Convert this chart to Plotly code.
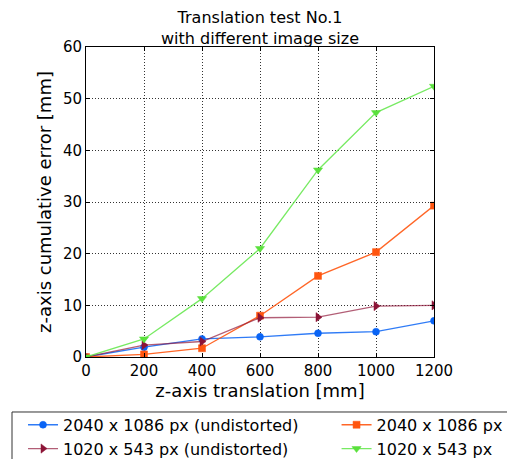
import plotly.graph_objects as go

# z-axis translation steps [mm]
translation = [0, 200, 400, 600, 800, 1000, 1200]

# cumulative z-axis error [mm] for each image size
err_2040_undist = [0, 1.9, 3.5, 3.9, 4.6, 4.9, 7.0]
err_2040 = [0, 0.5, 1.7, 8.0, 15.7, 20.3, 29.3]
err_1020_undist = [0, 2.3, 3.0, 7.6, 7.7, 9.85, 10.0]
err_1020 = [0, 3.5, 11.3, 21.0, 36.2, 47.3, 52.4]

x_ticks = [0, 200, 400, 600, 800, 1000, 1200]
y_ticks = [0, 10, 20, 30, 40, 50, 60]

FONT = "DejaVu Sans"

series = [
    ("2040 x 1086 px (undistorted)", err_2040_undist, "rgba(10,100,245,0.85)", "rgb(10,100,245)", "circle", 7, "legend"),
    ("2040 x 1086 px", err_2040, "rgba(255,85,15,0.9)", "rgb(255,85,15)", "square", 7, "legend2"),
    ("1020 x 543 px (undistorted)", err_1020_undist, "rgba(145,25,60,0.7)", "rgb(140,20,55)", "triangle-right", 8, "legend"),
    ("1020 x 543 px", err_1020, "rgba(95,230,70,0.85)", "rgb(90,225,60)", "triangle-down", 8, "legend2"),
]

fig = go.Figure()
for name, ys, lc, mc, sym, ms, leg in series:
    fig.add_trace(go.Scatter(
        x=translation, y=ys, name=name, mode="lines+markers",
        line=dict(color=lc, width=1.3),
        marker=dict(color=mc, symbol=sym, size=ms, line=dict(color=mc, width=0.5)),
        legend=leg,
    ))

axis_common = dict(
    showline=True, linecolor="black", linewidth=1, mirror="ticks",
    ticks="inside", ticklen=4, tickcolor="black",
    showgrid=True, gridcolor="rgba(0,0,0,0.8)", griddash="1px,2px", gridwidth=1,
    zeroline=False, tickfont=dict(family=FONT, size=15, color="black"),
)

fig.update_xaxes(range=[0, 1200], tickvals=x_ticks,
                 title=dict(text="z-axis translation [mm]", font=dict(family=FONT, size=18, color="black"), standoff=1),
                 **axis_common)
fig.update_yaxes(range=[0, 60], tickvals=y_ticks,
                 title=dict(text="z-axis cumulative error [mm]", font=dict(family=FONT, size=18, color="black"), standoff=6),
                 **axis_common)

legend_font = dict(family=FONT, size=16, color="black")
fig.update_layout(
    width=507, height=459,
    margin=dict(l=86, r=73, t=47, b=102, autoexpand=False),
    paper_bgcolor="white", plot_bgcolor="white",
    font=dict(family=FONT, color="black"),
    annotations=[dict(text="Translation test No.1<br>with different image size",
                      x=0.5, xref="paper", xanchor="center",
                      y=1, yref="paper", yanchor="bottom", yshift=-3,
                      showarrow=False, align="center",
                      font=dict(family=FONT, size=16, color="black"))],
    legend=dict(x=-0.181, xanchor="left", y=-0.164, yanchor="top",
                bgcolor="rgba(0,0,0,0)", borderwidth=0, font=legend_font,
                tracegroupgap=0, itemwidth=30),
    legend2=dict(x=0.72, xanchor="left", y=-0.164, yanchor="top",
                 bgcolor="rgba(0,0,0,0)", borderwidth=0, font=legend_font,
                 tracegroupgap=0, itemwidth=30),
    shapes=[dict(type="rect", xref="paper", yref="paper",
                 x0=-0.2126, x1=1.3, y0=-0.1774, y1=-0.4,
                 line=dict(color="#333333", width=1), fillcolor="rgba(0,0,0,0)",
                 layer="below")],
)

fig.write_html("out.html")
